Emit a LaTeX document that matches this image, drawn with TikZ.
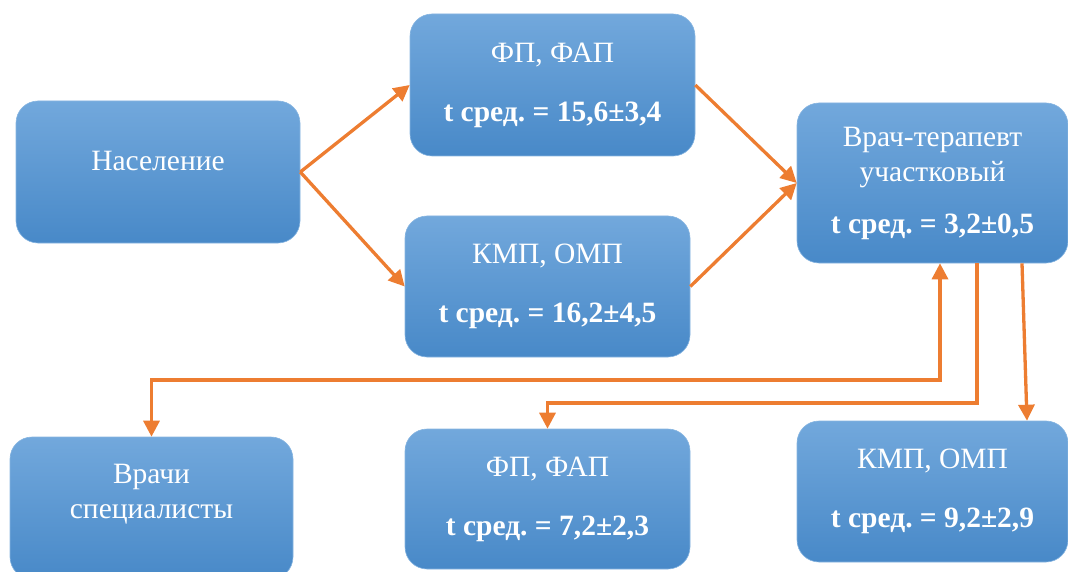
\documentclass[tikz,border=0pt]{standalone}
\usepackage{fontspec}
\setmainfont{Liberation Serif}
\usetikzlibrary{arrows.meta}
\definecolor{boxtop}{HTML}{72A8DC}
\definecolor{boxbot}{HTML}{4889C8}
\definecolor{arrorange}{HTML}{ED7D31}
\frenchspacing

\begin{document}
\begin{tikzpicture}[x=1pt,y=-1pt,
    box/.style={rectangle, rounded corners=22pt, top color=boxtop, bottom color=boxbot,
      draw=boxtop!85!white, line width=0.6pt, text=white, align=center,
      font=\fontsize{29.5}{35}\selectfont, inner sep=0pt},
    arr/.style={draw=arrorange, line width=3.3pt, -{Triangle[length=16pt,width=16pt]}}]
    \useasboundingbox (0,0) rectangle (1068,572);

    % boxes
    \node[box, minimum width=284pt, minimum height=142pt, text depth=22pt] (nas) at (158,172) {Население};
    \node[box, minimum width=285pt, minimum height=142pt] (fap1) at (552.5,85)
    {ФП, ФАП\\[24pt] \textbf{t сред. = 15,6±3,4}};
    \node[box, minimum width=285pt, minimum height=141pt] (kmp1) at (547.5,286.5)
    {КМП, ОМП\\[24pt] \textbf{t сред. = 16,2±4,5}};
    \node[box, minimum width=271pt, minimum height=160pt] (ter) at (932.5,183)
    {Врач-терапевт\\участковый\\[17pt] \textbf{t сред. = 3,2±0,5}};
    \node[box, minimum width=283pt, minimum height=142pt, text depth=34pt] (spec) at (151.5,508)
    {Врачи\\специалисты};
    \node[box, minimum width=285pt, minimum height=140pt] (fap2) at (547.5,499)
    {ФП, ФАП\\[24pt] \textbf{t сред. = 7,2±2,3}};
    \node[box, minimum width=271pt, minimum height=141pt] (kmp2) at (932.5,491.5)
    {КМП, ОМП\\[24pt] \textbf{t сред. = 9,2±2,9}};

    % arrows
    \draw[arr] (nas.east) -- (fap1.west);
    \draw[arr] (nas.east) -- (kmp1.west);
    \draw[arr] (fap1.east) -- (ter.west);
    \draw[arr] (kmp1.east) -- (ter.west);
    \draw[arr, {Triangle[length=16pt,width=16pt]}-{Triangle[length=16pt,width=16pt]}]
    (spec.north) |- (940,380) -- ([xshift=7.5pt]ter.south);
    \draw[arr] ([xshift=44.5pt]ter.south) |- (547.5,403) -- (fap2.north);
    \draw[arr] ([xshift=89.5pt]ter.south) -- ([xshift=94.5pt]kmp2.north);
\end{tikzpicture}
\end{document}
